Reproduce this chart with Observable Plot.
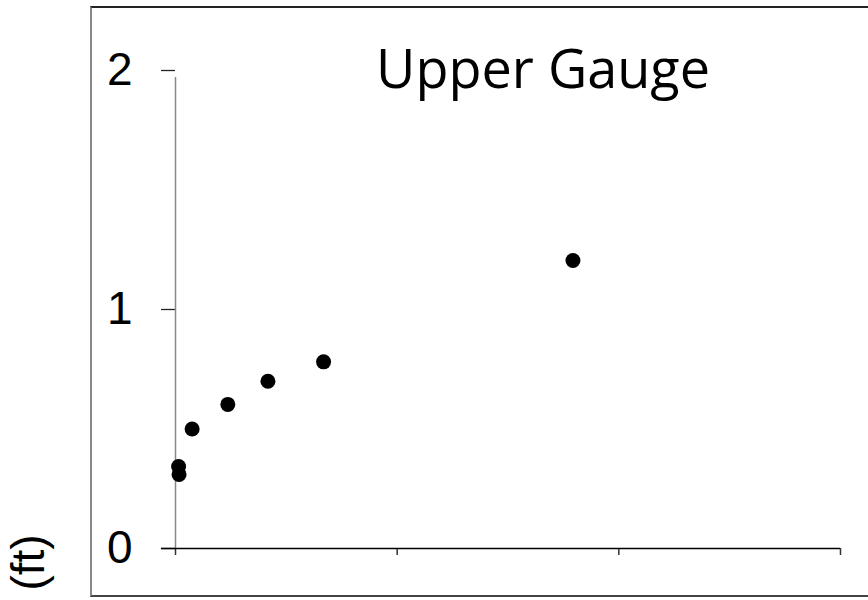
<!DOCTYPE html>
<html>
<head>
<meta charset="utf-8">
<script src="https://cdn.jsdelivr.net/npm/d3@7"></script>
<script src="https://cdn.jsdelivr.net/npm/@observablehq/plot@0.6"></script>
<style>
  html, body { margin: 0; padding: 0; background: #fff; }
  #wrap { position: relative; width: 868px; height: 600px; overflow: hidden; }
  #box {
    position: absolute; left: 90px; top: 6px; width: 800px; height: 591px;
    border-top: 2px solid #222; border-left: 2px solid #888; border-bottom: 2px solid #444;
    box-sizing: border-box; pointer-events: none;
  }
  #chart { position: absolute; left: 0; top: 0; }
</style>
</head>
<body>
<div id="wrap"><div id="chart"></div><div id="box"></div></div>
<script>
// Data
const xValues = [0.014, 0.016, 0.075, 0.236, 0.417, 0.668, 1.793];
const yValues = [0.343, 0.310, 0.500, 0.603, 0.700, 0.781, 1.205];
const xTicks = [0, 1, 2, 3];
const yTicks = [0, 1, 2];
const title = "Upper Gauge";
const yUnit = "(ft)";

const points = xValues.map((x, i) => ({x, y: yValues[i]}));
const sansFont = "'Liberation Sans', Arial, sans-serif";

const chart = Plot.plot({
  width: 868,
  height: 600,
  marginLeft: 175,
  marginRight: 28,
  marginTop: 70,
  marginBottom: 52,
  style: {background: "transparent", overflow: "visible", fontFamily: sansFont},
  x: {domain: [0, 3], label: null},
  y: {domain: [0, 2], label: null},
  marks: [
    Plot.axisY({ticks: yTicks, label: null, tickSize: 14, tickPadding: 29, fontSize: 46, fontFamily: sansFont, stroke: "#222", strokeWidth: 1.3, color: "#000", tickFormat: d => String(d)}),
    Plot.axisX({ticks: xTicks, label: null, tickSize: 7, tickFormat: () => "", stroke: "#333", strokeWidth: 1.5}),
    Plot.ruleX([0], {y1: 0, y2: 2, stroke: "#888", strokeWidth: 1.5, insetBottom: -7}),
    Plot.ruleY([0], {x1: 0, x2: 3, stroke: "#000", strokeWidth: 1.5, insetLeft: -14}),
    Plot.dot(points, {x: "x", y: "y", r: 7.5, fill: "#000", stroke: "none"}),
    Plot.text([title], {frameAnchor: "top", dx: 35, dy: 0, fontSize: 54, fontFamily: "'Open Sans', sans-serif", fill: "#000", lineAnchor: "middle"}),
    Plot.text([yUnit], {frameAnchor: "bottom-left", dx: -146, dy: 14, rotate: -90, fontSize: 46, fontFamily: sansFont, fill: "#000", lineAnchor: "middle", textAnchor: "middle"})
  ]
});
document.getElementById("chart").appendChild(chart);
</script>
</body>
</html>
